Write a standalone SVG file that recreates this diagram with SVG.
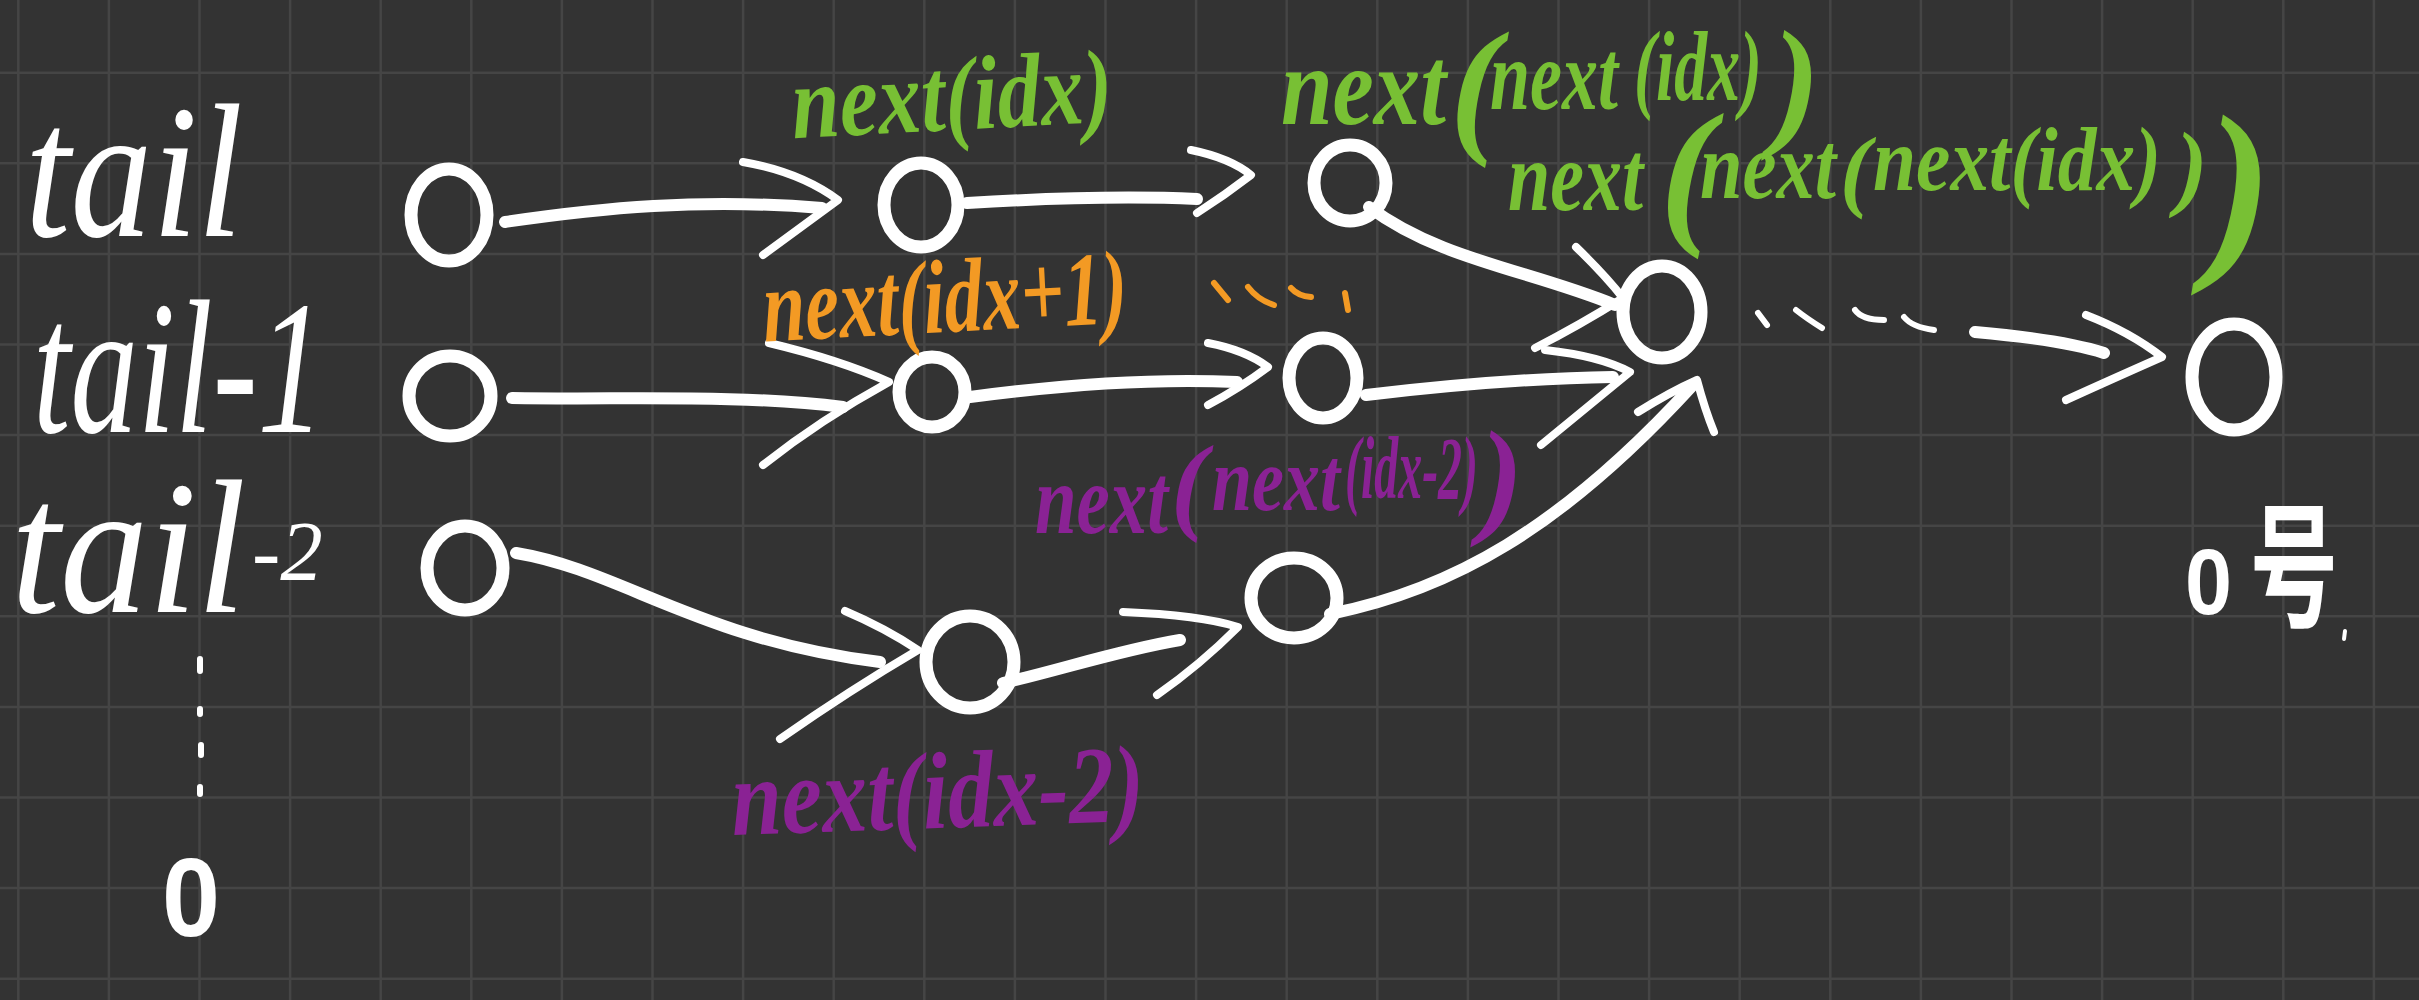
<svg xmlns="http://www.w3.org/2000/svg" width="2419" height="1000" viewBox="0 0 2419 1000">
<style>
.bg{fill:#333333}
.grid{stroke:#454545;stroke-width:2.5;fill:none}
.node{fill:none;stroke:#ffffff;stroke-width:13}
.ln{fill:none;stroke:#ffffff;stroke-width:12;stroke-linecap:round;stroke-linejoin:round}
.hd{fill:none;stroke:#ffffff;stroke-width:8;stroke-linecap:round;stroke-linejoin:round}
.dot{fill:none;stroke:#ffffff;stroke-width:6;stroke-linecap:round}
.w{fill:#ffffff;font-family:"Liberation Serif","DejaVu Serif",serif;font-style:italic}
.lab{font-family:"Liberation Serif","DejaVu Serif",serif;font-style:italic;font-weight:bold}
.g{fill:#78c034}
.o{fill:#f39a24}
.p{fill:#8a2294}
.num{fill:#ffffff;font-family:"Liberation Sans","Noto Sans CJK SC",sans-serif;font-weight:bold}
</style>
<rect class="bg" x="0" y="0" width="2419" height="1000"/>
<path class="grid" d="M18.3,0V1000M108.9,0V1000M199.5,0V1000M290.1,0V1000M380.7,0V1000M471.3,0V1000M561.9,0V1000M652.5,0V1000M743.1,0V1000M833.7,0V1000M924.3,0V1000M1014.9,0V1000M1105.5,0V1000M1196.1,0V1000M1286.7,0V1000M1377.3,0V1000M1467.9,0V1000M1558.5,0V1000M1649.1,0V1000M1739.7,0V1000M1830.3,0V1000M1920.9,0V1000M2011.5,0V1000M2102.1,0V1000M2192.7,0V1000M2283.3,0V1000M2373.9,0V1000M0,72.7H2419M0,163.3H2419M0,253.9H2419M0,344.5H2419M0,435.1H2419M0,525.7H2419M0,616.3H2419M0,706.9H2419M0,797.5H2419M0,888.1H2419M0,978.7H2419"/>

<g id="row-labels">
<text class="w" x="25" y="236" font-size="190" textLength="218" lengthAdjust="spacingAndGlyphs">tail</text>
<text class="w" x="33" y="432" font-size="190" textLength="292" lengthAdjust="spacingAndGlyphs">tail-1</text>
<text class="w" x="11" y="612" font-size="190"><tspan textLength="235" lengthAdjust="spacingAndGlyphs">tail</tspan><tspan x="252" y="580" font-size="85">-2</tspan></text>
<path class="dot" d="M200,659V671M200,709V714M201,745V755M200,787V794" stroke-width="4"/>
<text class="num" x="162" y="936" font-size="112" textLength="58" lengthAdjust="spacingAndGlyphs">0</text>
</g>

<g id="connectors">
<path class="ln" d="M505,222 C600,208 700,198 822,208"/>
<path class="hd" d="M743,162 Q800,172 838,200 Q800,228 763,255"/>
<path class="ln" d="M967,203 C1050,198 1130,196 1197,199"/>
<path class="hd" d="M1191,150 Q1230,158 1251,175 Q1225,195 1197,213"/>
<path class="ln" d="M1369,207 C1440,260 1530,270 1615,305"/>
<path class="hd" d="M1576,247 Q1605,275 1623,298 Q1580,325 1535,348"/>
<path class="ln" d="M512,398 C620,400 740,394 843,407"/>
<path class="hd" d="M769,343 Q840,360 889,382 Q820,420 763,465"/>
<path class="ln" d="M970,397 C1060,385 1150,378 1237,382"/>
<path class="hd" d="M1208,343 Q1245,350 1268,367 Q1240,388 1208,405"/>
<path class="ln" d="M1366,395 C1450,385 1540,378 1613,377"/>
<path class="hd" d="M1545,350 Q1600,356 1630,372 Q1590,405 1541,445"/>
<path class="ln" d="M516,553 C620,570 700,640 880,662"/>
<path class="hd" d="M845,611 Q885,628 918,650 Q850,690 780,739"/>
<path class="ln" d="M1003,683 C1060,670 1120,650 1180,640"/>
<path class="hd" d="M1123,612 Q1200,615 1238,627 Q1200,665 1157,695"/>
<path class="ln" d="M1330,614 C1450,590 1560,530 1692,386"/>
<path class="hd" d="M1638,412 Q1670,392 1697,380 Q1705,410 1714,432"/>
<path class="dot" d="M1758,313 L1767,325 M1796,310 Q1806,318 1822,328 M1855,310 Q1862,320 1884,320 M1904,317 Q1912,327 1934,330"/>
<path class="ln" d="M1975,332 C2020,336 2070,342 2104,353"/>
<path class="hd" d="M2086,315 Q2130,332 2162,357 Q2110,380 2066,400"/>
</g>

<g id="node-tail"><ellipse class="node" cx="449" cy="215" rx="38" ry="46"/></g>
<g id="node-tail-1"><ellipse class="node" cx="450" cy="396" rx="41" ry="40"/></g>
<g id="node-tail-2"><ellipse class="node" cx="465" cy="568" rx="38" ry="42"/></g>
<g id="node-r1a"><ellipse class="node" cx="921" cy="205" rx="37" ry="42"/></g>
<g id="node-r1b"><ellipse class="node" cx="1350" cy="183" rx="36" ry="38"/></g>
<g id="node-r2a"><ellipse class="node" cx="932" cy="392" rx="33" ry="35"/></g>
<g id="node-r2b"><ellipse class="node" cx="1323" cy="378" rx="34" ry="40"/></g>
<g id="node-r3a"><ellipse class="node" cx="970" cy="662" rx="44" ry="46"/></g>
<g id="node-r3b"><ellipse class="node" cx="1294" cy="598" rx="43" ry="40"/></g>
<g id="node-merge"><ellipse class="node" cx="1662" cy="312" rx="39" ry="46"/></g>
<g id="node-zero"><ellipse class="node" cx="2234" cy="377" rx="42" ry="53"/></g>

<g id="label-next-idx">
<text class="lab g" x="792" y="130" font-size="105" textLength="321" lengthAdjust="spacingAndGlyphs" transform="rotate(-3 950 110)">next(idx)</text>
</g>
<g id="label-next-next-idx">
<text class="lab g"><tspan x="1281" y="124" font-size="112" textLength="165" lengthAdjust="spacingAndGlyphs">next</tspan><tspan x="1450" y="136" font-size="150">(</tspan><tspan x="1490" y="109" font-size="100" textLength="128" lengthAdjust="spacingAndGlyphs">next</tspan><tspan x="1634" y="100" font-size="100" textLength="128" lengthAdjust="spacingAndGlyphs">(idx)</tspan><tspan x="1772" y="130" font-size="145">)</tspan></text>
</g>
<g id="label-next3">
<text class="lab g"><tspan x="1508" y="210" font-size="100" textLength="135" lengthAdjust="spacingAndGlyphs">next</tspan><tspan x="1660" y="225" font-size="162">(</tspan><tspan x="1700" y="198" font-size="95" textLength="136" lengthAdjust="spacingAndGlyphs">next</tspan><tspan x="1840" y="200" font-size="92">(</tspan><tspan x="1873" y="190" font-size="90" textLength="288" lengthAdjust="spacingAndGlyphs">next(idx)</tspan><tspan x="2176" y="198" font-size="95">)</tspan><tspan x="2206" y="253" font-size="200">)</tspan></text>
</g>
<g id="label-next-idx1">
<text class="lab o" x="763" y="332" font-size="105" textLength="365" lengthAdjust="spacingAndGlyphs" transform="rotate(-3 945 310)">next(idx+1)</text>
<path d="M1214,283 L1228,300 M1248,287 Q1258,300 1274,305 M1291,288 Q1298,296 1311,297 M1345,293 L1348,310" fill="none" stroke="#f39a24" stroke-width="6" stroke-linecap="round"/>
</g>
<g id="label-next-next-idx2">
<text class="lab p"><tspan x="1035" y="533" font-size="100" textLength="133" lengthAdjust="spacingAndGlyphs">next</tspan><tspan x="1171" y="520" font-size="108">(</tspan><tspan x="1212" y="510" font-size="92" textLength="128" lengthAdjust="spacingAndGlyphs">next</tspan><tspan x="1345" y="498" font-size="88" textLength="133" lengthAdjust="spacingAndGlyphs">(idx-2)</tspan><tspan x="1480" y="520" font-size="130">)</tspan></text>
</g>
<g id="label-next-idx2">
<text class="lab p" x="731" y="828" font-size="110" textLength="413" lengthAdjust="spacingAndGlyphs" transform="rotate(-2 935 790)">next(idx-2)</text>
</g>
<g id="label-zero">
<text class="num"><tspan x="2185" y="614" font-size="92" textLength="47" lengthAdjust="spacingAndGlyphs">0</tspan><tspan x="2250" y="617" font-size="135" textLength="88" lengthAdjust="spacingAndGlyphs" font-family="Noto Sans CJK SC, sans-serif">号</tspan></text>
<path d="M2345,631 L2344,639" stroke="#ffffff" stroke-width="4" stroke-linecap="round"/>
</g>
</svg>
